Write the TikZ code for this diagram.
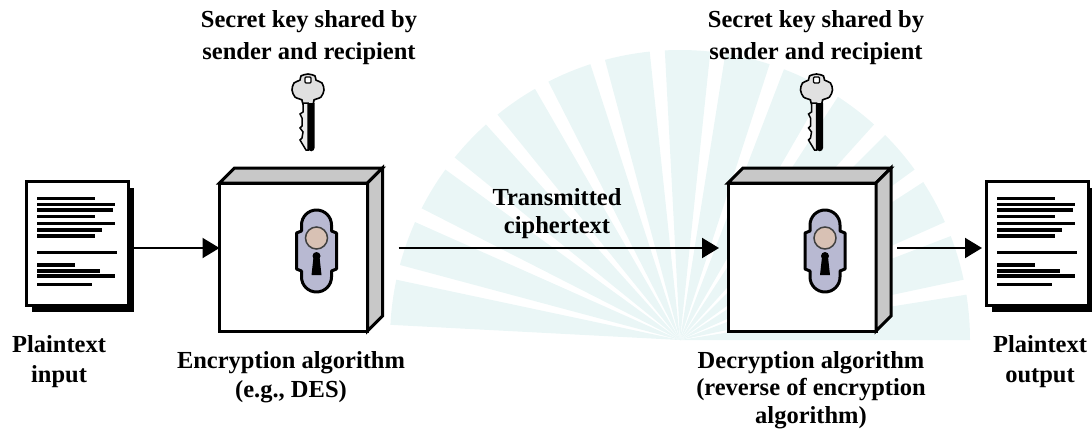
\documentclass[tikz,border=0pt]{standalone}
\usepackage{fontspec}
\setmainfont{Liberation Serif}
\usetikzlibrary{arrows.meta,calc,shadows}
\definecolor{wmcyan}{HTML}{EAF6F6}
\definecolor{plate}{HTML}{B8B9D2}
\definecolor{knob}{HTML}{D8C1B4}
\definecolor{keymetal}{HTML}{E0E0E0}
\definecolor{side}{HTML}{C8C8C8}

\tikzset{
  lbl/.style={font=\bfseries\fontsize{24.5}{30}\selectfont, align=center, anchor=base, inner sep=0pt},
  docpage/.style={draw=black, fill=white, line width=3pt, minimum width=102pt, minimum height=124pt,
    inner sep=0pt, drop shadow={shadow xshift=5pt, shadow yshift=-6pt, fill=black, opacity=1}},
  docline/.style={line width=3.2pt},
  cryptobox/.style={draw=black, fill=white, line width=3pt, minimum width=148pt, minimum height=148pt,
    inner sep=0pt, outer sep=0pt},
  bevel/.style={draw=black, fill=side, line width=3pt, line join=miter},
  flow/.style={line width=2pt, -{Triangle[length=17pt,width=20pt]}},
  pics/keyicon/.style={code={
    % bow of the key
    \filldraw[fill=keymetal, draw=black, line width=1.6pt]
      plot[smooth cycle] coordinates {(0,-16) (7,-14) (8,-10) (14,-7) (16,0) (13,7) (6,10) (5,14)
        (-5,14) (-6,10) (-13,7) (-16,0) (-14,-7) (-8,-10) (-7,-14)};
    \filldraw[fill=white, draw=black, line width=1.2pt, rounded corners=1pt] (-3,-13) rectangle (3,-7);
    % blade with teeth
    \fill[black] (0,13) rectangle (6.5,58) arc[start angle=0, end angle=180, radius=3.25];
    \filldraw[fill=keymetal!60, draw=black, line width=1.5pt]
      (0,13) -- (-5,13) -- (-5,22) -- (-8,24) -- (-6,28) -- (-6,36) -- (-8,38) -- (-5,42)
      -- (-6,48) -- (-8,50) -- (-5,55) -- (-2,60) -- (0,60) -- cycle;
  }},
  pics/lockplate/.style={code={
    % escutcheon plate
    \filldraw[fill=plate, draw=black, line width=3pt, line join=round]
      (-15,-26) arc[start angle=180, end angle=360, radius=15] -- (15,-20) -- (20,-18)
      -- (20,18) -- (15,20) -- (15,26) arc[start angle=0, end angle=180, radius=15]
      -- (-15,20) -- (-20,18) -- (-20,-18) -- (-15,-20) -- cycle;
    % knob
    \filldraw[fill=knob, draw=black!75, line width=1.5pt] (0,-13) circle (11);
    % keyhole
    \fill[black] (0,5) circle (4);
    \fill[black] (-3,6) -- (3,6) -- (5,24) -- (-5,24) -- cycle;
  }},
}

\begin{document}
\begin{tikzpicture}[x=1pt, y=-1pt]
  \useasboundingbox (0,0) rectangle (1092,434);

  % faint sunburst in the background
  \coordinate (sun) at (680,340);
  \foreach \a in {0,12,...,168}
    \fill[wmcyan] (sun) -- ++(-\a:290) arc[start angle=-\a, end angle=-\a-9, radius=290] -- cycle;

  % arrow level
  \coordinate (lvl) at (0,248);

  % plaintext documents
  \node[docpage] (pin)  at (77.5,243.5) {};
  \node[docpage] (pout) at (1037.5,243.5) {};
  \foreach \d in {pin,pout} {
    \begin{scope}[shift={(\d.north west)}]
      \foreach \yy/\len in {18.3/70, 24.3/90, 30/88, 36.7/70, 43.3/90, 50/77, 56/70,
                            72.3/92, 85/50, 96/90, 104.3/67}
        \draw[docline] (12,\yy) -- (\len,\yy);
      \draw[line width=4.5pt] (12,91.2) -- (75,91.2);
    \end{scope}
  }

  % encryption and decryption boxes
  \node[cryptobox] (enc) at (293.5,257) {};
  \node[cryptobox] (dec) at (802,257) {};
  \foreach \b in {enc,dec} {
    \filldraw[bevel] (\b.north west) -- ++(15,-15) -- ($(\b.north east)+(15,-15)$) -- (\b.north east) -- cycle;
    \filldraw[bevel] (\b.north east) -- ++(15,-15) -- ($(\b.south east)+(15,-15)$) -- (\b.south east) -- cycle;
    \pic at ($(\b.center)+(23,-6)$) {lockplate};
    \pic at ($(\b.north)+(14.5,-93)$) {keyicon};
  }

  % data flow
  \draw[flow] ($(pin.east |- lvl)+(3,0)$) -- (enc.west |- lvl);
  \draw[flow] ($(enc.east |- lvl)+(31,0)$) -- ($(dec.west |- lvl)+(-9,0)$);
  \draw[flow] ($(dec.east |- lvl)+(21,0)$) -- ($(pout.west |- lvl)+(-3,0)$);

  % labels (placed by the baseline of their last line)
  \node[lbl, font=\bfseries\fontsize{24.5}{32}\selectfont] (keyEtxt) at (309,59) {Secret key shared by\\sender and recipient};
  \node[lbl, font=\bfseries\fontsize{24.5}{32}\selectfont] (keyDtxt) at (816,59) {Secret key shared by\\sender and recipient};
  \node[lbl] (pintxt) at (59,382) {Plaintext\\input};
  \node[lbl, font=\bfseries\fontsize{24.5}{29}\selectfont] (enctxt) at (291,397) {Encryption algorithm\\(e.g., DES)};
  \node[lbl, font=\bfseries\fontsize{24.5}{28}\selectfont] (ctxt) at (557,233) {Transmitted\\ciphertext};
  \node[lbl, font=\bfseries\fontsize{24.5}{27.5}\selectfont] (dectxt) at (811,423)
    {Decryption algorithm\\(reverse of encryption\\algorithm)};
  \node[lbl] (pouttxt) at (1040,382) {Plaintext\\output};
\end{tikzpicture}
\end{document}
